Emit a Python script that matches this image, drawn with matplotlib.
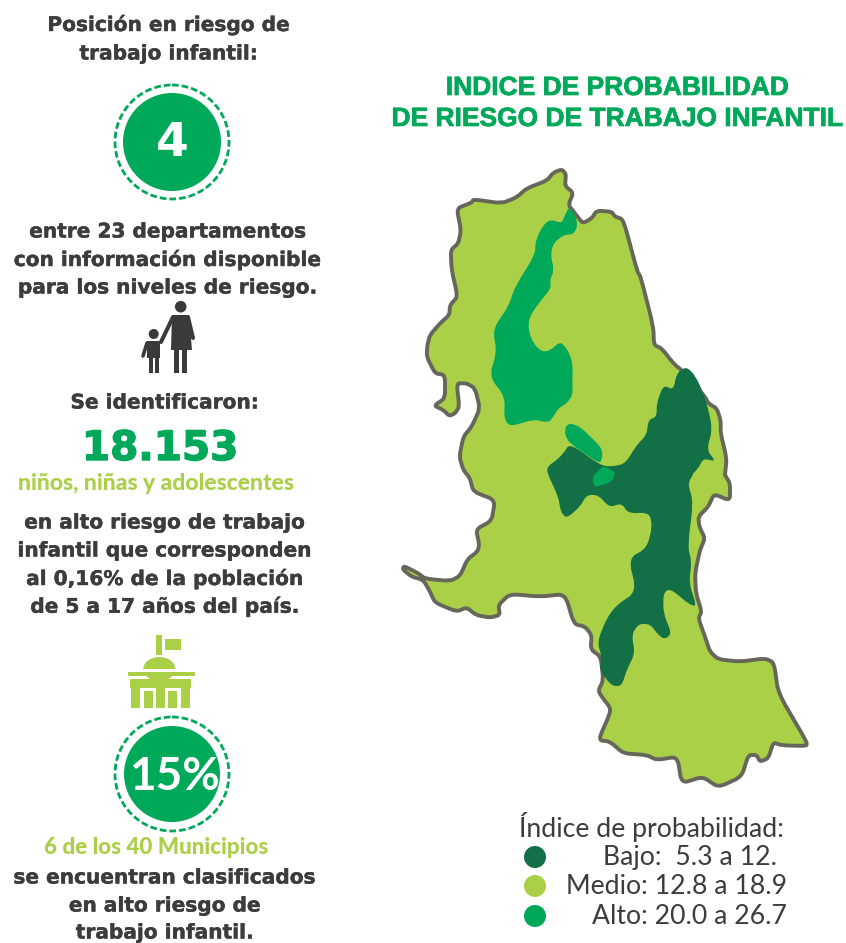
import numpy as np
import matplotlib
matplotlib.use("Agg")
import matplotlib.pyplot as plt
import matplotlib.patheffects as pe
from matplotlib.path import Path
from matplotlib.patches import PathPatch, Polygon, Circle, Rectangle, Ellipse

W = 846
H = 943

# colours
LIGHT = "#A9D046"
DARK = "#126F46"
ALTO = "#00A859"
EDGE = "#66665A"
TEXT = "#3C3C3B"

# outline of the department, picture pixels
outline_north = [(515,28),(528,42),(525,78),(550,98),(535,135),(555,160),(578,190),(605,175),(620,152),(665,155),(675,170),(700,178),
    (742,335),(752,350),(790,500),(792,555),(815,565),(850,610),(880,635),(945,710),(955,730),(980,745),(992,780),(992,820),(1010,895),(1005,945)]
outline_south = [(1005,15),(1020,40),(1020,92),(972,72),(955,110),(925,140),(928,170),(945,205),(930,240),(915,310),(918,370),(935,425),
    (925,445),(945,500),(960,545),(985,568),(1050,575),(1125,565),(1152,578),(1165,670),(1250,815),(1250,828),(1175,826),(1150,817),
    (1135,865),(1110,875),(1100,855),(1075,855),(1055,920),(985,952),(938,920),(875,940),(862,860),(800,870),(770,855),(700,850),
    (660,815),(625,810),(660,730),(660,712),(635,680),(625,662),(640,630),(632,560),(602,538),(605,495),(585,470),(552,462),(525,372),
    (450,380),(360,372),(325,405),(330,435),(300,443),(258,435),(230,412),(200,425),(135,398),(120,365),(100,330),(65,320),(38,298),
    (42,288),(85,310),(105,326),(180,333),(210,318),(232,268),(262,245),(268,225),(258,178),(305,152),(315,90),(250,65),(240,25),(220,0)]
outline_west = [(208,890),(220,830),(245,800),(270,745),(255,685),(230,670),(200,670),(208,740),(195,760),(178,768),(160,750),
    (132,737),(165,715),(165,645),(135,640),(110,590),(112,555),(120,525),(150,490),(178,465),(180,435),(203,410),(185,330),(182,270),
    (205,250),(213,210),(200,145),(245,128),(250,118),(335,130),(380,112),(410,85),(470,62),(490,38)]

alto_north = [(538,140),(555,165),(563,195),(552,222),(520,225),(490,250),(482,285),(492,330),(480,360),(483,385),(450,425),(418,470),
    (415,510),(430,550),(455,575),(480,572),(510,545),(530,565),(548,605),(547,670),(548,705),(530,730),(505,745),(490,770),(475,788),
    (430,778),(360,800),(342,775),(345,710),(298,650),(320,575),(310,520),(320,490),(355,440),(375,380),(435,285),(437,240),(460,195),
    (482,178),(515,190),(525,165)]
alto_mid = [(540,790),(570,800),(632,860),(638,885),(630,912),(540,850),(525,825),(527,800)]
alto_low = [(640,917),(672,935),(675,940),(665,965),(615,982),(607,960),(612,945)]

bajo_top = [(888,620),(915,645),(945,710),(968,805),(950,870),(978,905),(940,895),(925,925),(890,960)]
bajo_south = [(915,5),(893,40),(910,95),(893,230),(905,275),(897,340),(920,408),(900,405),(840,355),(820,370),(820,430),(845,490),
    (825,508),(805,495),(780,462),(745,462),(725,495),(735,550),(710,600),(695,648),(665,648),(628,600),(635,560),(622,515),(650,445),
    (680,405),(740,365),(715,265),(770,235),(787,170),(778,128),(715,130),(695,100),(658,112),(625,75),(590,75),(570,110),(530,145),
    (512,125),(505,80),(472,10)]
bajo_rest = [(472,920),(500,900),(520,880),(540,850),(630,915),(660,920),(705,912),(740,855),(770,825),(775,780),(800,770),(800,730),
    (820,675),(850,690),(860,640)]

left_lines = ["Posición en riesgo de", "trabajo infantil:", "entre 23 departamentos", "con información disponible",
    "para los niveles de riesgo.", "Se identificaron:", "en alto riesgo de trabajo", "infantil que corresponden",
    "al 0,16% de la población", "de 5 a 17 años del país.", "se encuentran clasificados", "en alto riesgo de", "trabajo infantil."]
left_xc = [169, 169, 168, 168, 168, 165, 165, 165, 165, 165, 165, 165, 165]
left_y = [25, 54, 232, 260, 288, 403, 523, 551, 579, 607, 878, 906, 933]

title_lines = ["INDICE DE PROBABILIDAD", "DE RIESGO DE TRABAJO INFANTIL"]
legend_names = ["Bajo:  5.3 a 12.", "Medio: 12.8 a 18.9", "Alto: 20.0 a 26.7"]
legend_colors = [DARK, LIGHT, ALTO]


def from_zoom(pts, oy):
    # crops were read at 3x, x from 390
    a = np.array(pts, dtype=float)
    return np.column_stack([390 + a[:, 0] / 3, oy + a[:, 1] / 3])


def soft_path(pts, t=0.5):
    # closed path, each corner replaced by a quadratic curve; t=0.5 gives a full blob
    nxt = np.roll(pts, -1, axis=0)
    prv = np.roll(pts, 1, axis=0)
    verts = [pts[0] + (prv[0] - pts[0]) * t]
    codes = [Path.MOVETO]
    for p, a, b in zip(pts, prv, nxt):
        verts += [p, p + (b - p) * t]
        codes += [Path.CURVE3, Path.CURVE3]
        verts += [p + (b - p) * (1 - t)]
        codes += [Path.LINETO]
    return Path(verts, codes)


def rings(ax, cx, cy, r_in, r_out):
    ax.add_patch(Circle((cx, cy), r_in, fc=ALTO, ec="none", zorder=3))
    ax.add_patch(Circle((cx, cy), r_out, fc="none", ec=ALTO, lw=2.0, ls=(0, (2.4, 1.1)), zorder=3))


def heavy(color, w=0.3):
    # the reference type is heavier than any bold here
    return [pe.withStroke(linewidth=w, foreground=color)]


fig = plt.figure(figsize=(W / 100, H / 100), dpi=100)
ax = fig.add_axes([0, 0, 1, 1])
ax.set_xlim(0, W)
ax.set_ylim(H, 0)
ax.axis("off")

# map
outline = np.vstack([from_zoom(outline_north, 160), from_zoom(outline_south, 470), from_zoom(outline_west, 160)])
ax.add_patch(PathPatch(soft_path(outline, 0.3), fc=LIGHT, ec=EDGE, lw=2.8, joinstyle="round", zorder=2))
bajo = np.vstack([from_zoom(bajo_top, 160), from_zoom(bajo_south, 470), from_zoom(bajo_rest, 160)])
ax.add_patch(PathPatch(soft_path(bajo, 0.4), fc=DARK, ec="none", zorder=3))
ax.add_patch(PathPatch(soft_path(from_zoom(alto_north, 160), 0.4), fc=ALTO, ec="none", zorder=4))
ax.add_patch(PathPatch(soft_path(from_zoom(alto_mid, 160), 0.3), fc=ALTO, ec="none", zorder=4))
ax.add_patch(PathPatch(soft_path(from_zoom(alto_low, 160), 0.3), fc=ALTO, ec="none", zorder=4))

# left column
body_font = dict(family="DejaVu Sans", fontweight="bold", color=TEXT, ha="center", va="center", fontsize=14.5)
for s, x, y in zip(left_lines, left_xc, left_y):
    ax.text(x, y, s, path_effects=heavy(TEXT), **body_font)

rings(ax, 172, 142, 49, 57)
ax.text(172, 143, "4", family="DejaVu Sans", fontweight="bold", color="white", fontsize=34, ha="center", va="center", zorder=5)
rings(ax, 172, 774, 48, 57)
ax.text(174, 777, "15%", family="Lato", fontweight="bold", color="white", fontsize=33, ha="center", va="center", zorder=5)

ax.text(160, 449, "18.153", family="DejaVu Sans", fontweight="bold", color=ALTO, fontsize=29.2, ha="center", va="center", path_effects=heavy(ALTO, 1.0))
ax.text(156, 483, "niños, niñas y adolescentes", family="Lato", fontweight=900, color=LIGHT, fontsize=16.5, ha="center", va="center")
ax.text(156, 848, "6 de los 40 Municipios", family="Lato", fontweight=900, color=LIGHT, fontsize=16.1, ha="center", va="center")

# title
for s, y in zip(title_lines, [88, 119]):
    ax.text(617, y, s, family="Liberation Sans", fontweight="bold", color=ALTO, fontsize=19, ha="center", va="center", path_effects=heavy(ALTO, 0.5))

# legend
ax.text(651, 827, "Índice de probabilidad:", family="Lato", color=TEXT, fontsize=19.2, ha="center", va="center")
for s, c, x, y in zip(legend_names, legend_colors, [777, 787, 787], [858, 887, 917]):
    ax.text(x, y, s, family="Lato", color=TEXT, fontsize=19.2, ha="right", va="center")
    ax.add_patch(Circle((535, y - 1), 11, fc=c, ec="none"))

# person icon
ICON = "#3A3A3A"
ax.add_patch(Circle((180.7, 306.7), 5.8, fc=ICON, ec="none"))
ax.add_patch(Polygon([(172, 315), (189, 315), (192, 350), (171, 350)], fc=ICON, ec="none"))
ax.add_patch(Rectangle((174, 350), 5.3, 23, fc=ICON, ec="none"))
ax.add_patch(Rectangle((181.7, 350), 5.7, 23, fc=ICON, ec="none"))
ax.plot([173, 161], [317, 342], color=ICON, lw=2.9, solid_capstyle="round")
ax.plot([188, 193], [317, 338], color=ICON, lw=2.9, solid_capstyle="round")
ax.add_patch(Circle((153.7, 334), 5, fc=ICON, ec="none"))
ax.add_patch(Rectangle((147, 341), 13, 17, fc=ICON, ec="none"))
ax.add_patch(Rectangle((149, 358), 4.3, 15, fc=ICON, ec="none"))
ax.add_patch(Rectangle((155, 358), 4.3, 15, fc=ICON, ec="none"))
ax.plot([147, 143], [343, 356], color=ICON, lw=2.6, solid_capstyle="round")

# building icon
ax.add_patch(Rectangle((156, 635), 6, 20, fc=LIGHT, ec="none"))
ax.add_patch(Rectangle((165, 639), 16, 11, fc=LIGHT, ec="none"))
ax.add_patch(Ellipse((159.3, 669), 32, 24, fc=LIGHT, ec="none"))
ax.add_patch(Rectangle((140, 669), 40, 3, fc="white", ec="none"))
ax.add_patch(Rectangle((128, 672), 67, 4, fc=LIGHT, ec="none"))
ax.add_patch(Rectangle((130, 679), 61, 9, fc=LIGHT, ec="none"))
for x0, x1 in [(131, 140), (144, 153), (156, 165), (168, 177), (181, 190)]:
    ax.add_patch(Rectangle((x0, 688), x1 - x0, 20, fc=LIGHT, ec="none"))
for x0 in [144, 168]:
    ax.add_patch(Rectangle((x0, 688), 9, 3, fc="white", ec="none"))

fig.savefig("out.png", dpi=100)
